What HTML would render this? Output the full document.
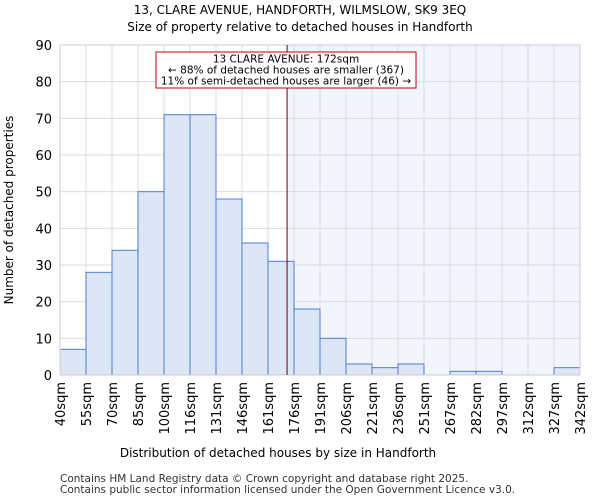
<!DOCTYPE html>
<html><head><meta charset="utf-8"><style>
body{margin:0;background:#fff;font-family:"DejaVu Sans","Liberation Sans",sans-serif}
</style></head><body>
<svg id="c" width="600" height="500" xmlns="http://www.w3.org/2000/svg" font-family="DejaVu Sans, Liberation Sans, sans-serif">
<text x="300" y="14" text-anchor="middle" font-size="12">13, CLARE AVENUE, HANDFORTH, WILMSLOW, SK9 3EQ</text>
<text x="300" y="31" text-anchor="middle" font-size="12">Size of property relative to detached houses in Handforth</text>
<g id="plot"></g>
<text x="278" y="457" text-anchor="middle" font-size="12">Distribution of detached houses by size in Handforth</text>
<text transform="translate(13,210) rotate(-90)" text-anchor="middle" font-size="12">Number of detached properties</text>
<text x="60" y="482" font-size="10.5" fill="#333">Contains HM Land Registry data © Crown copyright and database right 2025.</text>
<text x="60" y="493" font-size="10.5" fill="#333">Contains public sector information licensed under the Open Government Licence v3.0.</text>
</svg>
<script>
const binLabels=["40sqm","55sqm","70sqm","85sqm","100sqm","116sqm","131sqm","146sqm","161sqm","176sqm","191sqm","206sqm","221sqm","236sqm","251sqm","267sqm","282sqm","297sqm","312sqm","327sqm","342sqm"];
const counts=[7,28,34,50,71,71,48,36,31,18,10,3,2,3,0,1,1,0,0,2];
const yTicks=[0,10,20,30,40,50,60,70,80,90];
const markerBinPos=8+11/15;
const NS="http://www.w3.org/2000/svg";
const g=document.getElementById('plot');
const L=60,R=580,T=45,B=375,yMax=90;
const bw=(R-L)/counts.length;
const x=i=>L+i*bw;
const y=v=>B-(v/yMax)*(B-T);
function mk(t,a){const e=document.createElementNS(NS,t);for(const k in a)e.setAttribute(k,a[k]);g.appendChild(e);return e;}
const mx=x(markerBinPos);
let e=mk('rect',{x:mx,y:T,width:R-mx,height:B-T,fill:'#f3f5fc'});


for(let i=0;i<=counts.length;i++){e=mk('line',{x1:x(i),x2:x(i),y1:T,y2:B,stroke:'#dcdcdc','stroke-width':1});

}
yTicks.forEach(v=>{e=mk('line',{x1:L,x2:R,y1:y(v),y2:y(v),stroke:'#dcdcdc','stroke-width':1});


e=mk('text',{x:L-8,y:y(v)+5,'text-anchor':'end','font-size':13});e.textContent=v;

});
counts.forEach((c,i)=>{e=mk('rect',{x:x(i),y:y(c),width:bw,height:B-y(c),fill:'#dce6f5',stroke:'#4a7fd4','stroke-width':1});

});
binLabels.forEach((l,i)=>{e=mk('text',{transform:`translate(${x(i)+5},382) rotate(-90)`,'text-anchor':'end','font-size':13});e.textContent=l;

});
e=mk('rect',{x:L,y:T,width:R-L,height:B-T,fill:'none',stroke:'#ccc'});


e=mk('line',{x1:mx,x2:mx,y1:T,y2:B,stroke:'#6b0000','stroke-width':1});


e=mk('rect',{x:156,y:52,width:260,height:36,fill:'#fff',stroke:'#c00000','stroke-width':1});


["13 CLARE AVENUE: 172sqm","← 88% of detached houses are smaller (367)","11% of semi-detached houses are larger (46) →"].forEach((t,i)=>{
e=mk('text',{x:286,y:62.5+i*11,'text-anchor':'middle','font-size':10.5});e.textContent=t;

});
</script>
</body></html>
